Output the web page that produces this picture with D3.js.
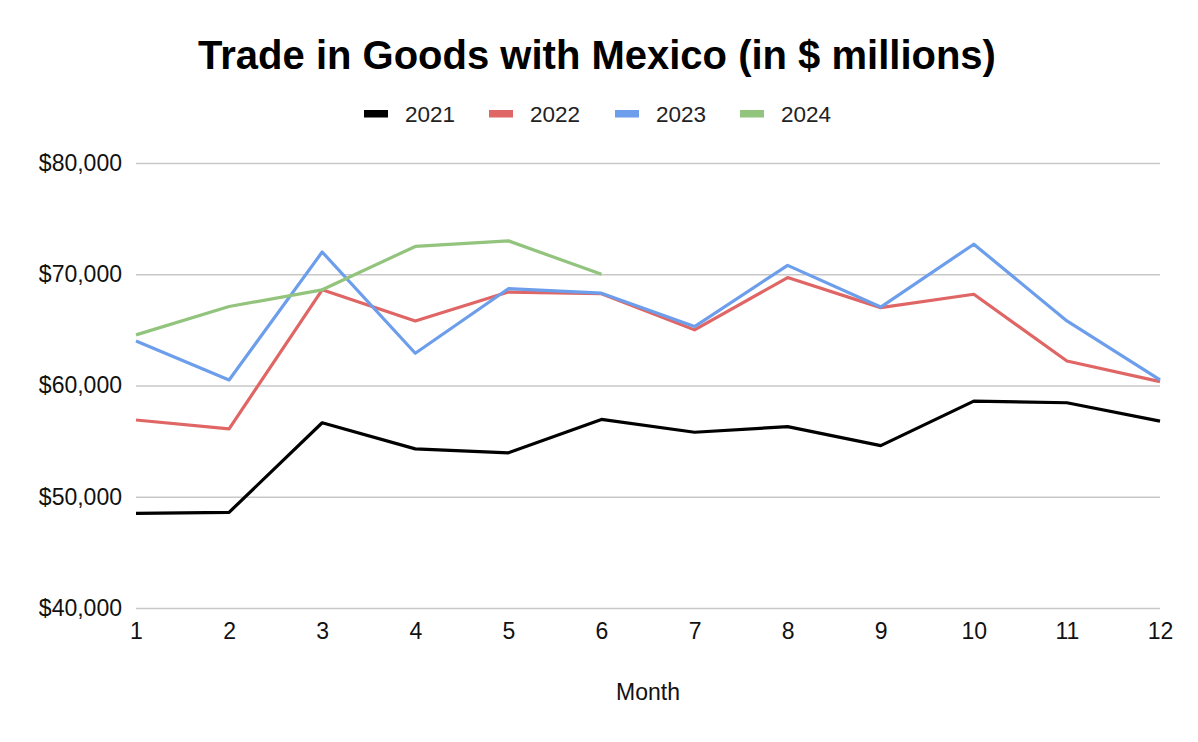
<!DOCTYPE html>
<html>
<head>
<meta charset="utf-8">
<script src="https://cdn.jsdelivr.net/npm/d3@7"></script>
<style>
  html, body { margin: 0; padding: 0; background: #fff; }
  svg { display: block; font-family: "Liberation Sans", Arial, Helvetica, sans-serif; }
</style>
</head>
<body>
<svg id="chart" width="1198" height="742"></svg>
<script>
const months = [1, 2, 3, 4, 5, 6, 7, 8, 9, 10, 11, 12];
const seriesNames = ["2021", "2022", "2023", "2024"];
const seriesColors = ["#000000", "#e06666", "#6d9eeb", "#93c47d"];
const values2021 = [48500, 48600, 56650, 54300, 53950, 56950, 55800, 56300, 54600, 58600, 58450, 56800];
const values2022 = [56900, 56100, 68600, 65800, 68400, 68250, 65000, 69700, 67000, 68200, 62200, 60350];
const values2023 = [64000, 60500, 72000, 62900, 68700, 68300, 65300, 70800, 67050, 72700, 65800, 60500];
const values2024 = [64550, 67100, 68600, 72500, 73000, 70000];
const yTicks = [40000, 50000, 60000, 70000, 80000];
const chartTitle = "Trade in Goods with Mexico (in $ millions)";
const xTitle = "Month";

const allSeries = [values2021, values2022, values2023, values2024];

const svg = d3.select("#chart");
const W = 1198, H = 742;
const margin = { left: 136, right: 38, top: 163, bottom: 134 };
const FONT = "Liberation Sans, Arial, sans-serif";

const x = d3.scaleLinear().domain([1, 12]).range([margin.left, W - margin.right]);
const y = d3.scaleLinear().domain([40000, 80000]).range([H - margin.bottom, margin.top]);

// Title
svg.append("text")
  .attr("x", 597).attr("y", 69)
  .attr("text-anchor", "middle")
  .attr("font-size", 40).attr("font-weight", "bold")
  .attr("fill", "#000")
  .text(chartTitle);

// Gridlines + y labels
const yAxis = d3.axisLeft(y).tickValues(yTicks)
  .tickSize(-(W - margin.left - margin.right))
  .tickPadding(14)
  .tickFormat(d => "$" + d3.format(",")(d));
const gy = svg.append("g").attr("transform", `translate(${margin.left},0)`).call(yAxis);
gy.select(".domain").remove();
gy.selectAll(".tick line").attr("stroke", "#c8c8c8").attr("stroke-width", 1.5);
gy.selectAll(".tick text").attr("font-size", 23).attr("fill", "#111").attr("font-family", FONT);

// X axis labels
const xAxis = d3.axisBottom(x).tickValues(months).tickSize(0).tickPadding(15).tickFormat(d3.format("d"));
const gx = svg.append("g").attr("transform", `translate(0,${y(40000)})`).call(xAxis);
gx.select(".domain").remove();
gx.selectAll(".tick text").attr("font-size", 23).attr("fill", "#111").attr("font-family", FONT);

// X title
svg.append("text")
  .attr("x", (x(1) + x(12)) / 2).attr("y", 700)
  .attr("text-anchor", "middle")
  .attr("font-size", 23).attr("fill", "#111")
  .text(xTitle);

// Lines
const line = d3.line().x((d, i) => x(months[i])).y(d => y(d));
allSeries.forEach((vals, k) => {
  svg.append("path")
    .datum(vals)
    .attr("fill", "none")
    .attr("stroke", seriesColors[k])
    .attr("stroke-width", 3.2)
    .attr("stroke-linejoin", "round")
    .attr("d", line);
});

// Legend
const legendX = [364, 489, 615, 740];
const lg = svg.append("g");
seriesNames.forEach((name, k) => {
  lg.append("rect")
    .attr("x", legendX[k]).attr("y", 110)
    .attr("width", 24).attr("height", 7.5)
    .attr("fill", seriesColors[k]);
  lg.append("text")
    .attr("x", legendX[k] + 41).attr("y", 121.5)
    .attr("font-size", 22.5).attr("fill", "#222")
    .text(name);
});
</script>
</body>
</html>
